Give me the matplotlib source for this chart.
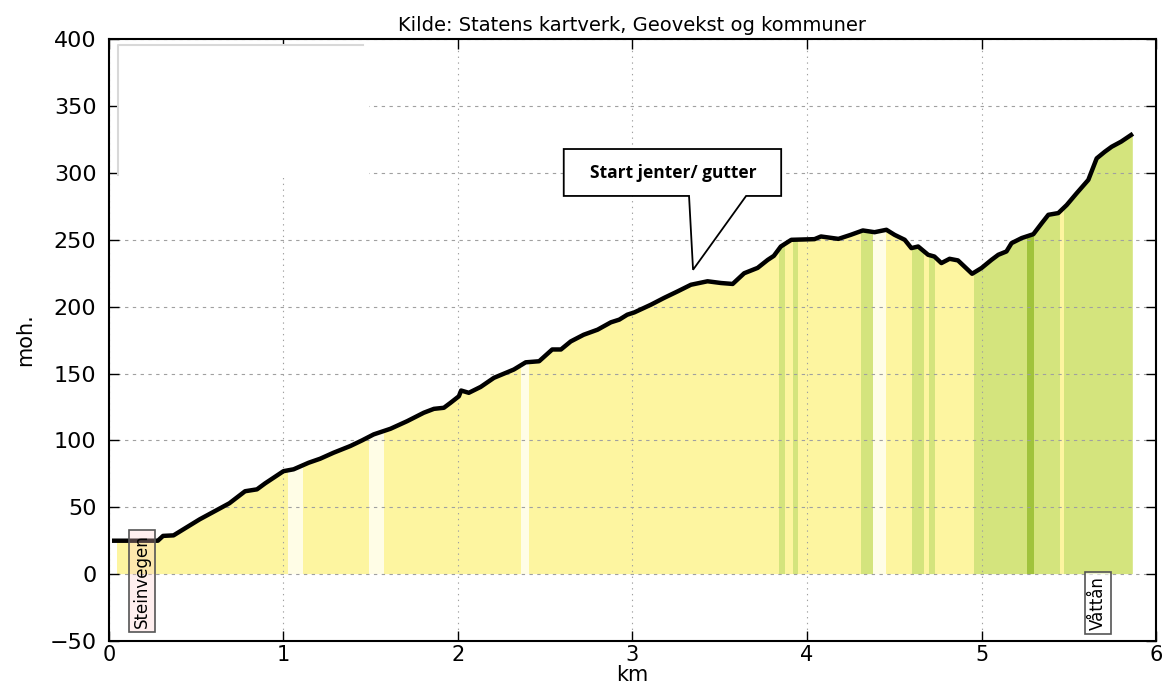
import numpy as np
import matplotlib.pyplot as plt
from matplotlib.patches import Polygon, Rectangle
from matplotlib.lines import Line2D

# Høydeprofil (km, moh.)
km = [0.03, 0.28, 0.31, 0.37, 0.52, 0.69, 0.78, 0.848, 0.895, 1.0, 1.058, 1.144,
      1.21, 1.287, 1.383, 1.45, 1.517, 1.613, 1.709, 1.804, 1.862, 1.919, 1.957,
      2.005, 2.018, 2.062, 2.13, 2.206, 2.32, 2.388, 2.465, 2.54, 2.59, 2.646,
      2.72, 2.80, 2.876, 2.924, 2.97, 3.01, 3.106, 3.18, 3.258, 3.335, 3.43,
      3.507, 3.574, 3.64, 3.717, 3.775, 3.81, 3.85, 3.91, 4.043, 4.08, 4.18,
      4.25, 4.32, 4.387, 4.455, 4.502, 4.56, 4.598, 4.637, 4.694, 4.73, 4.77,
      4.817, 4.865, 4.946, 5.0, 5.057, 5.096, 5.143, 5.172, 5.23, 5.297, 5.345,
      5.383, 5.44, 5.488, 5.545, 5.612, 5.66, 5.707, 5.746, 5.80, 5.857]
moh = [25, 25, 28.6, 29, 41, 53, 62, 63.4, 67.9, 77, 78.4, 83.3,
       86.3, 90.8, 95.8, 100, 104.5, 108.7, 114.4, 120.7, 123.6, 124.4, 128.1,
       133, 137.3, 135.6, 140, 146.8, 153, 158.4, 159.2, 168, 168, 174,
       179, 182.8, 188.3, 190.3, 194, 195.7, 201.5, 206.5, 211.4, 216.4, 219,
       217.7, 217, 225, 229, 235, 238, 245, 250, 250.5, 252.5, 250.7,
       253.7, 257, 255.7, 257.5, 253.7, 250, 243.8, 245, 238.8, 237.5, 232.6,
       235.8, 234.6, 224.6, 228.9, 235, 238.8, 241.3, 247.5, 251.3, 254.2, 262.4,
       268.7, 270, 276, 284.8, 294.8, 310.9, 315.9, 319.6, 323.4, 328.4]

# Fargesegmenter under profilen (start km, slutt km, type)
seg_start = [0.046, 1.025, 1.11, 1.488, 1.574, 2.36, 2.405, 3.842, 3.875, 3.918,
             3.951, 4.311, 4.378, 4.455, 4.602, 4.669, 4.698, 4.736, 4.958, 5.258,
             5.30, 5.45, 5.47]
seg_end = [1.025, 1.11, 1.488, 1.574, 2.36, 2.405, 3.842, 3.875, 3.918, 3.951,
           4.311, 4.378, 4.455, 4.602, 4.669, 4.698, 4.736, 4.958, 5.258, 5.30,
           5.45, 5.47, 5.867]
seg_type = ['gul', 'lys', 'gul', 'lys', 'gul', 'lys', 'gul', 'gronn', 'gul', 'gronn',
            'gul', 'gronn', 'lys', 'gul', 'gronn', 'gul', 'gronn', 'gul', 'gronn', 'mork',
            'gronn', 'gul', 'gronn']
farger = {'gul': '#fdf5a0', 'lys': '#fffde6', 'gronn': '#d4e47d', 'mork': '#a0c33c'}

fig = plt.figure(figsize=(11.63, 6.88), dpi=100)
ax = fig.add_axes([0.0937, 0.0683, 0.9003, 0.8747])

# Flate under profilen som klippemaske
clip = Polygon(np.column_stack([[seg_start[0]] + km[1:] + [seg_end[-1], seg_end[-1], seg_start[0]],
                                [moh[0]] + moh[1:] + [moh[-1], 0, 0]]),
               closed=True, facecolor='none', edgecolor='none')
ax.add_patch(clip)
for s, e, t in zip(seg_start, seg_end, seg_type):
    r = ax.axvspan(s, e, ymin=0, ymax=1, color=farger[t], lw=0, zorder=1)
    r.set_clip_path(clip)

ax.plot(km, moh, color='black', lw=3.2, zorder=3, solid_joinstyle='round')

ax.set_xlim(0, 6)
ax.set_ylim(-50, 400)
ax.set_xticks(range(0, 7))
ax.set_yticks(range(-50, 401, 50))
ax.tick_params(direction='in', top=True, right=True, length=7, width=1)
ax.tick_params(axis='y', pad=9, labelsize=16)
ax.tick_params(axis='x', pad=3, labelsize=15)
for sp in ax.spines.values():
    sp.set_linewidth(1.5)

ax.set_axisbelow('line')
ax.grid(axis='y', color='#a0a0a0', linestyle=(0, (3, 4)), lw=0.8)
ax.grid(axis='x', color='#a0a0a0', linestyle=(0, (1.2, 4)), lw=0.8)

ax.set_xlabel('km', fontsize=15, labelpad=0)
ax.set_ylabel('moh.', fontsize=15, labelpad=10)
ax.set_title('Kilde: Statens kartverk, Geovekst og kommuner', fontsize=14, pad=6)

# Tom forklaringsboks oppe til venstre
ax.add_patch(Rectangle((0.0086, 0.769), 0.24, 0.221, transform=ax.transAxes,
                       facecolor='white', edgecolor='none', zorder=4))
ax.add_line(Line2D([0.0086, 0.0086, 0.2426], [0.774, 0.99, 0.99], transform=ax.transAxes,
                   color='#d8d8d8', lw=1.5, zorder=5))

# Stedsnavn
ax.text(0.19, -5, 'Steinvegen', rotation=90, ha='center', va='center', fontsize=12,
        zorder=6, bbox=dict(boxstyle='square,pad=0.25', facecolor=(1, 0.8, 0.8, 0.3),
                            edgecolor='#555555', lw=1.2))
ax.text(5.667, -21.6, 'Våttån', rotation=90, ha='center', va='center', fontsize=12,
        zorder=6, bbox=dict(boxstyle='square,pad=0.25', facecolor=(1, 1, 1, 0.6),
                            edgecolor='#555555', lw=1.2))

# Snakkeboble
boble = Polygon([(2.606, 317.9), (3.852, 317.9), (3.852, 282.8), (3.651, 282.8),
                 (3.347, 227.6), (3.324, 282.8), (2.606, 282.8)], closed=True,
                facecolor='white', edgecolor='black', lw=1.3, zorder=6)
ax.add_patch(boble)
ax.text(3.232, 300, 'Start jenter/ gutter', ha='center', va='center', fontsize=12.5,
        fontweight='bold', family=['Open Sans', 'DejaVu Sans'], zorder=7)

plt.savefig('out.png', dpi=100)
